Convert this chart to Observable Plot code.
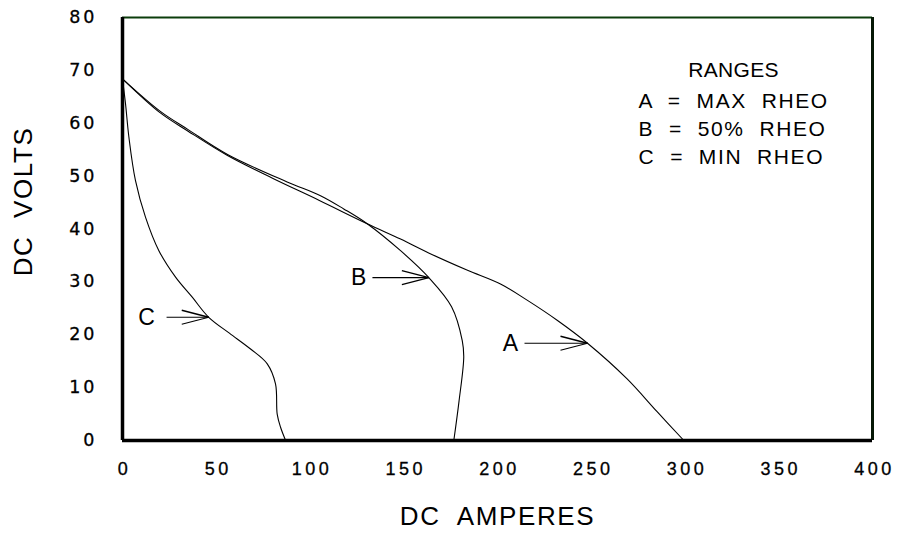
<!DOCTYPE html>
<html><head><meta charset="utf-8">
<script src="https://cdn.jsdelivr.net/npm/d3@7"></script>
<script src="https://cdn.jsdelivr.net/npm/@observablehq/plot@0.6"></script>
<style>
html,body{margin:0;padding:0;background:#fff;}
</style></head><body><div id="chart"></div>
<script>
// Curve A = MAX RHEO
const ampsA  = [0, 20, 35, 56, 80, 105, 130.5, 148.3, 165, 184, 201.6, 216, 232, 248, 269, 285, 299.4];
const voltsA = [68.4, 62, 58.5, 53.9, 49.6, 45.4, 41, 38.1, 35.2, 32.2, 29.6, 26.5, 22.7, 18.4, 11.7, 5.5, 0];
// Curve B = 50% RHEO
const ampsB  = [0, 20, 35, 56, 87.8, 105.6, 118, 130.5, 148.3, 163.4, 175.5, 181.2, 182, 179.5, 176.7];
const voltsB = [68.4, 62.3, 58.8, 54.1, 48.9, 46.3, 43.8, 41, 35.9, 30.8, 25.3, 18.9, 15.8, 7.5, 0];
// Curve C = MIN RHEO
const ampsC  = [0, 1.6, 3.4, 6.9, 12.3, 19.4, 28.3, 37.2, 46, 57, 68.3, 77.2, 81.6, 82.5, 84.3, 87];
const voltsC = [68.3, 63.7, 57.4, 49.2, 42.2, 35.9, 30.9, 27.1, 23.3, 20.3, 17.3, 14.5, 10.7, 5, 2.5, 0];

const xTicks = [0, 50, 100, 150, 200, 250, 300, 350, 400];
const yTicks = [0, 10, 20, 30, 40, 50, 60, 70, 80];
const xLabel = "DC  AMPERES";
const yLabel = "DC  VOLTS";

// Annotations
const legendTitle = "RANGES";
const legendLines = ["A  =  MAX  RHEO", "B  =  50%  RHEO", "C  =  MIN  RHEO"];
const legendLineY = [64.1, 58.95, 53.6];
const arrowLabels = ["A", "B", "C"];
const arrowTipX  = [248, 163.4, 46];
const arrowTipY  = [18.4, 30.8, 23.3];
const arrowTailX = [214.4, 133.3, 23.5];
const labelX     = [206.9, 125.9, 12.8];

const W = 897, H = 535;
const mL = 122, mR = 25, mT = 17, mB = 95;
const xPerPx = 400 / (W - mL - mR);
const yPerPx = 80 / (H - mT - mB);
const armDx = 27 * xPerPx, armDy = 7 * yPerPx;

const curves = [];
ampsA.forEach((a, i) => curves.push({series: "A", amps: a, volts: voltsA[i]}));
ampsB.forEach((a, i) => curves.push({series: "B", amps: a, volts: voltsB[i]}));
ampsC.forEach((a, i) => curves.push({series: "C", amps: a, volts: voltsC[i]}));

const arrows = arrowLabels.map((l, i) => ({label: l, tipX: arrowTipX[i], tipY: arrowTipY[i], tailX: arrowTailX[i], labelX: labelX[i]}));
const legend = legendLines.map((t, i) => ({text: t, y: legendLineY[i]}));

const chart = Plot.plot({
  width: W, height: H,
  marginLeft: mL, marginRight: mR, marginTop: mT, marginBottom: mB,
  style: {fontFamily: "Liberation Sans, Arial, sans-serif", fontSize: "17px", background: "#fff", color: "#000"},
  x: {domain: [0, 400], axis: null},
  y: {domain: [0, 80], axis: null},
  marks: [
    Plot.line(curves, {x: "amps", y: "volts", z: "series", curve: "catmull-rom", stroke: "#000", strokeWidth: 1.1}),
    // frame
    Plot.ruleY([80], {stroke: "#0b3d0b", strokeWidth: 2}),
    Plot.ruleX([400], {stroke: "#061806", strokeWidth: 3}),
    Plot.ruleX([0], {stroke: "#000", strokeWidth: 3.5}),
    Plot.ruleY([0], {stroke: "#000", strokeWidth: 3.5}),
    // text group 0: x tick labels
    Plot.text(xTicks, {x: d => d, frameAnchor: "bottom", dx: 2, dy: 29, text: d => String(d), fontSize: 18, lineAnchor: "middle", textAnchor: "middle", fill: "#000"}),
    // text group 1: y tick labels
    Plot.text(yTicks, {y: d => d, frameAnchor: "left", dx: -25, text: d => String(d), fontSize: 17.5, lineAnchor: "middle", textAnchor: "end", fill: "#000"}),
    // arrows
    Plot.link(arrows, {x1: "tailX", x2: "tipX", y1: "tipY", y2: "tipY", stroke: "#000", strokeWidth: 1.1}),
    Plot.link(arrows, {x1: d => d.tipX - armDx, y1: d => d.tipY + armDy, x2: "tipX", y2: "tipY", stroke: "#000", strokeWidth: 1.4}),
    Plot.link(arrows, {x1: d => d.tipX - armDx, y1: d => d.tipY - armDy, x2: "tipX", y2: "tipY", stroke: "#000", strokeWidth: 1.1}),
    // text group 2: arrow labels
    Plot.text(arrows, {x: "labelX", y: "tipY", text: "label", fontSize: 23, lineAnchor: "middle", textAnchor: "middle", fill: "#000"}),
    // text group 3, 4: legend
    Plot.text([legendTitle], {x: 325.9, y: 70.0, text: d => d, fontSize: 21, lineAnchor: "middle", textAnchor: "middle", fill: "#000"}),
    Plot.text(legend, {x: 275.2, y: "y", text: "text", fontSize: 21, lineAnchor: "middle", textAnchor: "start", fill: "#000"}),
    // text group 5, 6: axis labels
    Plot.text([xLabel], {frameAnchor: "bottom", dy: 66, text: d => d, fontSize: 26, lineAnchor: "top", fill: "#000"}),
    Plot.text([yLabel], {y: [45.2], frameAnchor: "left", dx: -99, rotate: -90, text: d => d, fontSize: 26, lineAnchor: "middle", textAnchor: "middle", fill: "#000"})
  ]
});
document.getElementById("chart").appendChild(chart);

const groups = Array.from(chart.querySelectorAll("g[aria-label='text']"));
const texts = i => d3.select(groups[i]).selectAll("text");
texts(0).style("letter-spacing", "3.5px").style("stroke", "#000").style("stroke-width", "0.3px");
texts(1).style("font-family", "'DejaVu Sans', sans-serif").style("letter-spacing", "3px").style("stroke", "#000").style("stroke-width", "0.3px");
texts(3).style("letter-spacing", "0.3px");
texts(4).style("letter-spacing", "1.6px").attr("xml:space", "preserve");
texts(5).style("letter-spacing", "1.6px").attr("xml:space", "preserve");
texts(6).style("letter-spacing", "1.6px").attr("xml:space", "preserve");
</script>
</body></html>
